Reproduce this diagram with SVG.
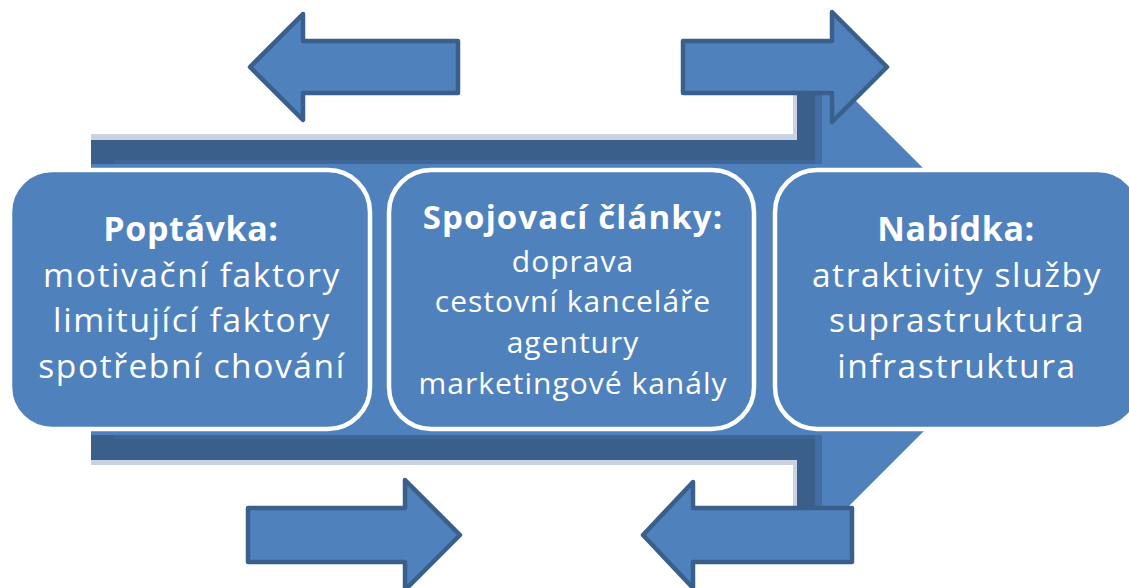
<svg xmlns="http://www.w3.org/2000/svg" width="1129" height="588" viewBox="0 0 1129 588">
<style>
.node{fill:#4F81BD;stroke:#FFFFFF;stroke-width:4.5}
.t{font-family:'Open Sans','Noto Sans','Liberation Sans',sans-serif;fill:#FFFFFF;text-anchor:middle}
.b{font-weight:bold;font-size:34px;letter-spacing:0.6px}
.b2{font-weight:bold;font-size:33px;letter-spacing:1.1px}
.r{font-size:33.5px;letter-spacing:1.6px}
.s{font-size:30px;letter-spacing:1px}
.arrow{fill:#4F81BD;stroke:#3A5F8B;stroke-width:4.5;stroke-linejoin:round}
.light{fill:#CBD2E1}
.dark{fill:#3A5F8B}
.mid{fill:#4F81BD}
</style>
<rect width="1129" height="588" fill="#FFFFFF"/>
<g id="backbone">
  <rect class="light" x="91" y="134" width="706" height="331"/>
  <rect class="light" x="793" y="67" width="5" height="466"/>
  <rect class="dark" x="91" y="140" width="731" height="320"/>
  <rect class="dark" x="797" y="67" width="25" height="466"/>
  <rect x="815" y="67" width="7" height="466" fill="#426CA3"/>
  <rect x="114" y="160" width="701" height="4" fill="#3D6595"/>
  <rect x="114" y="435" width="701" height="4" fill="#3D6595"/>
  <rect class="mid" x="91" y="164" width="731" height="271"/>
  <polygon class="mid" points="822,67 1055,300 822,533"/>
</g>
<g id="node-poptavka">
  <rect class="node" x="10" y="170" width="360" height="259" rx="42" ry="42"/>
  <text class="t b" x="191" y="241">Poptávka:</text>
  <text class="t r" x="192" y="287">motivační faktory</text>
  <text class="t r" x="192" y="332">limitující faktory</text>
  <text class="t r" x="192" y="378">spotřební chování</text>
</g>
<g id="node-spojovaci">
  <rect class="node" x="389" y="170" width="365" height="259" rx="42" ry="42"/>
  <text class="t b2" x="573" y="229">Spojovací články:</text>
  <text class="t s" x="573" y="272">doprava</text>
  <text class="t s" x="573" y="312">cestovní kanceláře</text>
  <text class="t s" x="573" y="353">agentury</text>
  <text class="t s" x="573" y="394">marketingové kanály</text>
</g>
<g id="node-nabidka">
  <rect class="node" x="775" y="170" width="365" height="259" rx="42" ry="42"/>
  <text class="t b" x="956" y="241">Nabídka:</text>
  <text class="t r" x="957" y="287">atraktivity služby</text>
  <text class="t r" x="957" y="332">suprastruktura</text>
  <text class="t r" x="957" y="378">infrastruktura</text>
</g>
<g id="connectors">
  <polygon class="arrow" points="458,41 303,41 303,14 250,67 303,120 303,93 458,93"/>
  <polygon class="arrow" points="683,41 832,41 832,12 887,67 832,122 832,93 683,93"/>
  <polygon class="arrow" points="248,508 405,508 405,480 460,535 405,590 405,562 248,562"/>
  <polygon class="arrow" points="852,508 693,508 693,482 643,535 693,588 693,562 852,562"/>
</g>
</svg>
